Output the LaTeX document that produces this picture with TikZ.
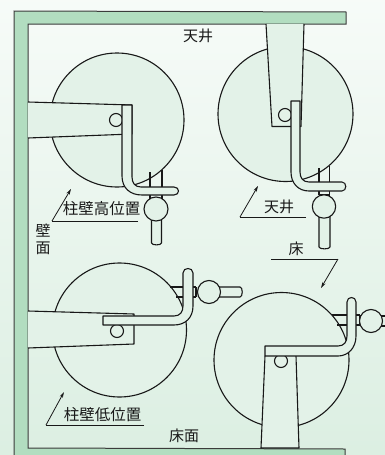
\documentclass[tikz,border=0pt]{standalone}
\usepackage{fontspec}
\setmainfont{Noto Sans CJK JP}
\usetikzlibrary{arrows.meta}
\definecolor{bandc}{HTML}{B2DDC0}
\definecolor{partc}{HTML}{E3F2E8}
\definecolor{inkc}{HTML}{181818}
\tikzset{
  part/.style={draw=inkc,fill=partc,line width=1.1pt,line join=round},
  wire/.style={draw=inkc,line width=1.1pt},
  leader/.style={draw=inkc,line width=0.8pt},
  leaderarrow/.style={draw=inkc,line width=0.8pt,-{Stealth[length=6pt,width=3.5pt]}},
  lbl/.style={text=inkc,inner sep=0pt,font=\fontsize{15}{15}\selectfont},
  wide/.style={text=inkc,inner sep=0pt,font=\fontsize{15.5}{15.5}\selectfont},
  band/.style={draw=inkc!85,fill=bandc,line width=1pt}
}
\begin{document}
\begin{tikzpicture}[x=1pt,y=-1pt]
\useasboundingbox (0,0) rectangle (385,455);
\clip (0,0) rectangle (385,455);
\shade[shading angle=160,top color=white!70!partc,bottom color=partc!85!bandc] (0,0) rectangle (385,455);
% frame
\path[band] (14,456) -- (14,11) -- (346,12) -- (346,24) -- (28,24) -- (28,448) -- (345,449) -- (345,456) -- cycle;

% unit 1: high wall
\path[part] (117,120) circle (67);
\path[wire] (150,172) -- (150,200) (162,170) -- (162,200) (150,200) -- (162,200);
\path[part] (151.5,218) -- (151.5,243) .. controls (151.5,245.5) and (161.5,245.5) .. (161.5,243) -- (161.5,218) -- cycle;
\path[part] (156,209) circle (12);
\path[part] (28,102) -- (132,105) -- (132,134) -- (28,138);
\path[part] (116,120) circle (6.5);
\path[part] (122,105) -- (132,105) -- (132,177) .. controls (132,183) and (135,187) .. (141,187) -- (174,187) .. controls (180,187) and (180,195) .. (174,195) -- (142,195) .. controls (130,195) and (122,188) .. (122,176) -- cycle;

% unit 2: ceiling
\path[part] (285.5,114) circle (67.5);
\path[wire] (319,168) -- (319,195) (329.5,166) -- (329.5,195) (319,195) -- (329.5,195);
\path[part] (319,216) -- (319,247) .. controls (319,249.5) and (330,249.5) .. (330,247) -- (330,216) -- cycle;
\path[part] (324,206.5) circle (11.7);
\path[part] (266,24) -- (272,126.5) -- (301,126.5) -- (304,24);
\path[part] (285,115) circle (6.5);
\path[part] (291,101) -- (300,101) -- (300,172) .. controls (300,178) and (303,182) .. (309,182) -- (342,182) .. controls (347,182) and (347,191) .. (342,191) -- (309,191) .. controls (298,191) and (291,183) .. (291,172) -- cycle;

% unit 3: low wall
\path[part] (119.5,330) circle (67);
\path[wire] (170,287) -- (196,287) (176,297) -- (196,297) (196,287) -- (196,297);
\path[part] (218,287) -- (240,287) .. controls (243,287) and (243,297) .. (240,297) -- (218,297) -- cycle;
\path[part] (209,292) circle (11.5);
\path[part] (28,311) -- (134,314) -- (134,344) -- (28,348);
\path[part] (117,331) circle (6.5);
\path[part] (103,316) -- (174,316) .. controls (180,316) and (183,312) .. (183,306) -- (183,273) .. controls (183,267) and (193,267) .. (193,273) -- (193,306) .. controls (193,318) and (185,325) .. (174,325) -- (103,325) -- cycle;

% unit 4: floor
\path[part] (281.5,360) circle (67.5);
\path[wire] (332,315) -- (360,315) (337,325) -- (360,325) (360,315) -- (360,325);
\path[part] (381,316) -- (390,316) -- (390,326) -- (381,326) -- cycle;
\path[part] (371,321) circle (11.5);
\path[part] (265,356) -- (261,448) -- (299,448) -- (296,356);
\path[part] (281,361) circle (6.5);
\path[part] (265,346) -- (338,346) .. controls (344,346) and (347,342) .. (347,336) -- (347,302) .. controls (347,296) and (356,296) .. (356,302) -- (356,336) .. controls (356,348) and (348,356) .. (338,356) -- (265,356) -- cycle;

% labels
\node[lbl] (ceilA) at (198,36) {天井};
\node[wide] (hiwall) at (101.5,209) {柱壁高位置};
\node[lbl] (ceilB) at (279,206.5) {天井};
\node[lbl] (wallA) at (43,231) {壁};
\node[lbl] (wallB) at (43,248) {面};
\node[lbl] (floorA) at (296,249) {床};
\node[wide] (lowall) at (102.5,415) {柱壁低位置};
\node[lbl] (floorB) at (184,436) {床面};

% leaders
\coordinate (a1) at (52,221); \coordinate (a2) at (138,221); \coordinate (a3) at (71,189);
\draw[leader] (a2) -- (a1);
\draw[leaderarrow] (a1) -- (a3);
\coordinate (b1) at (240,217); \coordinate (b2) at (306,217); \coordinate (b3) at (258,186);
\draw[leader] (b2) -- (b1);
\draw[leaderarrow] (b1) -- (b3);
\coordinate (c1) at (46,425); \coordinate (c2) at (144,425); \coordinate (c3) at (64,392);
\draw[leader] (c2) -- (c1);
\draw[leaderarrow] (c1) -- (c3);
\coordinate (d1) at (271,259); \coordinate (d2) at (338,259); \coordinate (d3) at (321,288);
\draw[leader] (d1) -- (d2);
\draw[leaderarrow] (d2) -- (d3);
\end{tikzpicture}
\end{document}
